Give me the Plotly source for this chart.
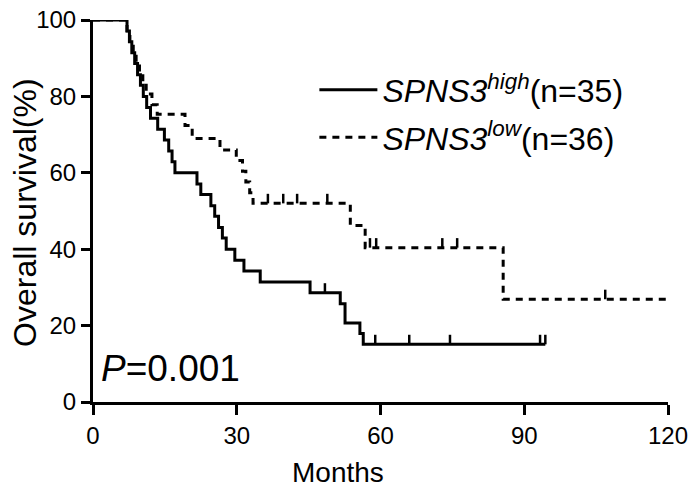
import plotly.graph_objects as go

# ---- data ----
high_times = [0, 7.1, 7.6, 8.1, 8.7, 9.3, 9.9, 10.5, 11.2, 12.0, 13.5, 14.9, 15.8, 16.5, 17.1,
              21.7, 22.5, 24.6, 25.4, 26.2, 27.0, 27.8, 29.6, 31.5, 34.9, 45.3, 51.6, 52.6,
              55.7, 56.4, 94.4]
high_surv = [100, 97.1, 94.3, 91.4, 88.6, 85.7, 82.9, 80.0, 77.1, 74.3, 71.4, 68.6, 65.7, 62.9, 60.0,
             57.1, 54.3, 51.4, 48.6, 45.7, 42.9, 40.0, 37.1, 34.3, 31.4, 28.6, 25.7, 20.7,
             17.9, 15.1, 15.1]
high_censor_t = [48.4, 58.9, 66.0, 74.5, 93.3, 94.4]
high_censor_s = [28.6, 15.1, 15.1, 15.1, 15.1, 15.1]

low_times = [0, 7.1, 7.7, 8.4, 9.0, 9.7, 10.4, 11.1, 12.3, 13.4, 19.2, 20.7, 26.5, 29.9,
             31.2, 31.9, 32.7, 33.4, 53.7, 56.8, 85.6, 120]
low_surv = [100, 97.2, 94.4, 91.7, 88.9, 86.1, 83.3, 80.6, 77.8, 75.3, 72.4, 69.0, 66.0, 63.2,
            60.4, 57.6, 54.8, 52.0, 46.2, 40.4, 26.9, 26.9]
low_censor_t = [36.5, 39.7, 42.6, 48.9, 57.8, 59.1, 72.9, 76.0, 106.9]
low_censor_s = [52.0, 52.0, 52.0, 52.0, 40.4, 40.4, 40.4, 40.4, 26.9]

x_ticks = [0, 30, 60, 90, 120]
y_ticks = [0, 20, 40, 60, 80, 100]

high_name = "<i>SPNS3</i><sup><i>high</i></sup>(n=35)"
low_name = "<i>SPNS3</i><sup><i>low</i></sup>(n=36)"
p_text = "<i>P</i>=0.001"
x_title = "Months"
y_title = "Overall survival(%)"

FONT = "Arial, Liberation Sans, sans-serif"
TICK_H = 2.5  # censor tick height in % units


def censor_segments(ts, ss):
    xs, ys = [], []
    for t, s in zip(ts, ss):
        xs += [t, t, None]
        ys += [s, s + TICK_H, None]
    return xs, ys


fig = go.Figure()

fig.add_trace(go.Scatter(x=high_times, y=high_surv, mode="lines", line_shape="hv",
                         line=dict(color="black", width=3), showlegend=False,
                         hoverinfo="skip"))
cx, cy = censor_segments(high_censor_t, high_censor_s)
fig.add_trace(go.Scatter(x=cx, y=cy, mode="lines", line=dict(color="black", width=2.5),
                         showlegend=False, hoverinfo="skip"))

fig.add_trace(go.Scatter(x=low_times, y=low_surv, mode="lines", line_shape="hv",
                         line=dict(color="black", width=3, dash="7px,6px"), showlegend=False,
                         hoverinfo="skip"))
cx, cy = censor_segments(low_censor_t, low_censor_s)
fig.add_trace(go.Scatter(x=cx, y=cy, mode="lines", line=dict(color="black", width=2.5),
                         showlegend=False, hoverinfo="skip"))

# legend entries
fig.add_trace(go.Scatter(x=[None], y=[None], mode="lines", name=high_name,
                         line=dict(color="black", width=3), legendgroup="h"))
fig.add_trace(go.Scatter(x=[None], y=[None], mode="lines", name=low_name,
                         line=dict(color="black", width=3, dash="7px,6px"), legendgroup="l"))

fig.add_annotation(x=1.2, y=8.8, xref="x", yref="y", text=p_text, showarrow=False,
                   xanchor="left", yanchor="middle",
                   font=dict(family=FONT, size=37, color="black"))
fig.add_annotation(x=0.426, y=-0.184, xref="paper", yref="paper", text=x_title,
                   showarrow=False, xanchor="center", yanchor="middle",
                   font=dict(family=FONT, size=28, color="black"))
fig.add_annotation(x=0, y=0.495, xref="paper", yref="paper", text=y_title,
                   showarrow=False, xanchor="center", yanchor="middle", textangle=-90,
                   xshift=-68, font=dict(family=FONT, size=32, color="black"))

fig.update_layout(
    width=694, height=496,
    margin=dict(l=93, r=26, t=20, b=94, autoexpand=False),
    paper_bgcolor="white", plot_bgcolor="white",
    font=dict(family=FONT, color="black"),
    showlegend=True,
    legend=dict(x=0.385, y=0.889, xanchor="left", yanchor="top",
                font=dict(family=FONT, size=32, color="black"),
                bgcolor="rgba(0,0,0,0)", tracegroupgap=3, traceorder="grouped",
                itemwidth=58),
    xaxis=dict(range=[0, 120], tickvals=x_ticks, ticktext=[str(v) for v in x_ticks],
               showgrid=False, zeroline=False, showline=True, linecolor="black", linewidth=3,
               ticks="outside", ticklen=10, tickwidth=3, tickcolor="black", automargin=False,
               ticklabeloverflow="allow",
               tickfont=dict(family=FONT, size=24)),
    yaxis=dict(range=[0, 100], tickvals=y_ticks, ticktext=[str(v) for v in y_ticks],
               showgrid=False, zeroline=False, showline=True, linecolor="black", linewidth=3,
               ticks="outside", ticklen=9, tickwidth=3, tickcolor="black", automargin=False,
               ticklabeloverflow="allow",
               tickfont=dict(family=FONT, size=24)),
)

# remove the default 8px page margin so the 694x496 figure fills the window exactly
fig.write_html("out.html", config={"displayModeBar": False},
               post_script="document.body.style.margin='0';")
